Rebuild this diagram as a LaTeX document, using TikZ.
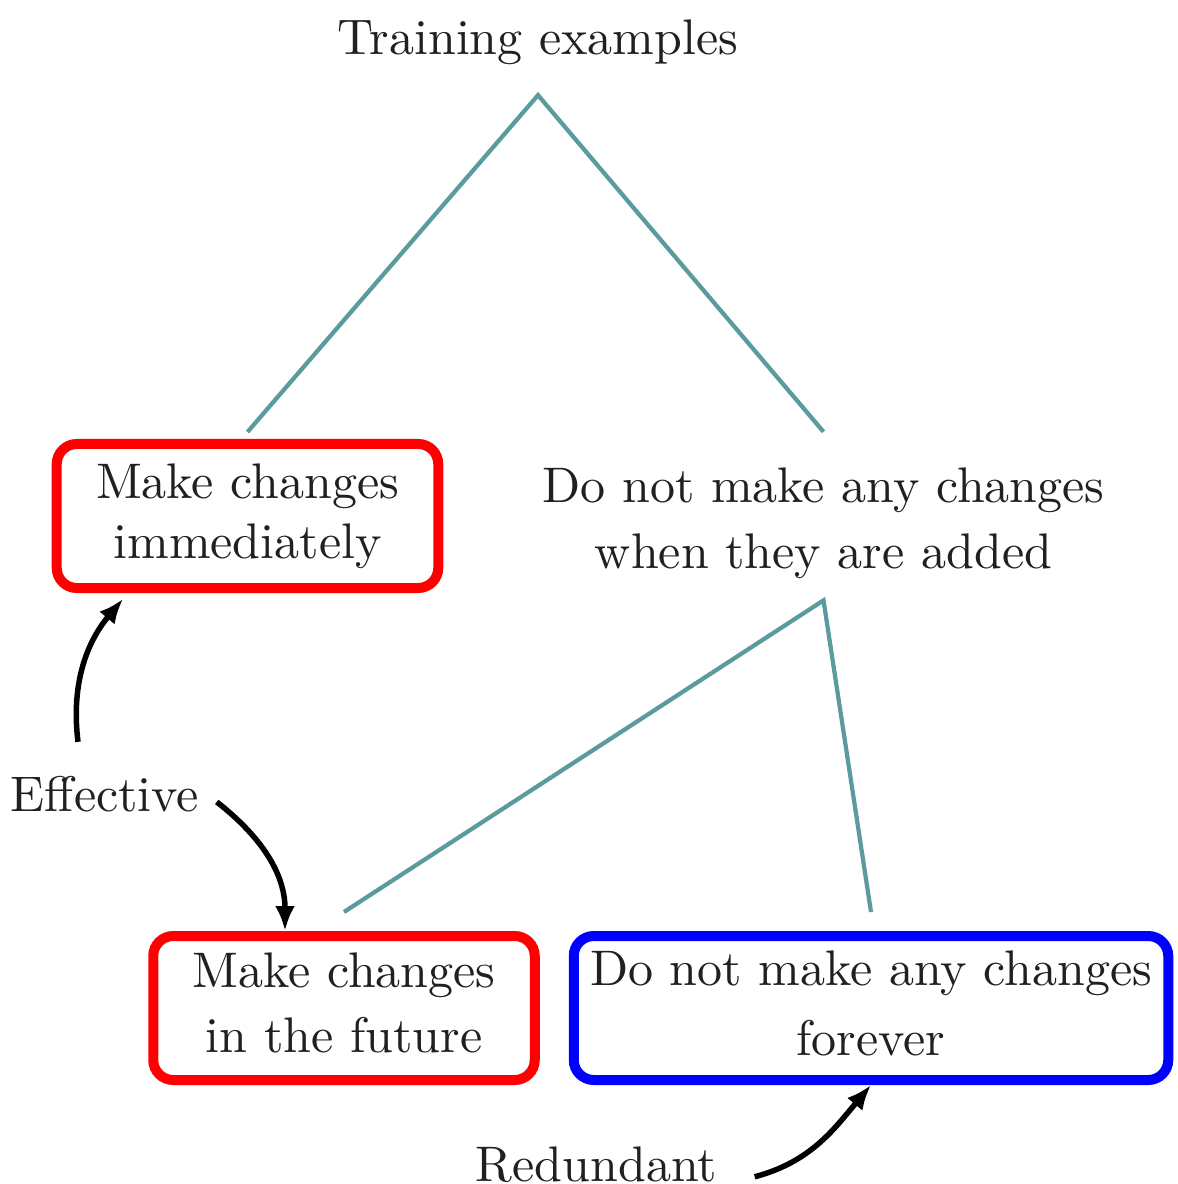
\documentclass[tikz,border=0pt]{standalone}
\usetikzlibrary{arrows.meta}
\definecolor{branchcol}{RGB}{91,155,158}
\definecolor{textcol}{RGB}{35,31,32}
\begin{document}
\begin{tikzpicture}[x=0.2pt,y=-0.2pt,
    every node/.style={text=textcol,align=center},
    box/.style={draw,line width=2pt,rounded corners=4pt,inner xsep=2.5pt,inner ysep=2pt,minimum height=28.8pt,
      execute at begin node={\rule{0pt}{7.5pt}},execute at end node={\rule[-2pt]{0pt}{2pt}}},
    effbox/.style={box,draw=red,minimum width=76.3pt},
    redbox/.style={box,draw=blue,minimum width=118.9pt},
    branch/.style={draw=branchcol,line width=0.85pt},
    note/.style={-{Latex[length=5pt,width=4pt]},line width=1.1pt}]
  \useasboundingbox (0,0) rectangle (1177,1184);
  \node (root) at (538,42.5) {Training examples};
  \node[effbox] (imm) at (247.5,516) {Make changes\\immediately};
  \node (later) at (823.5,523.2) {Do not make any changes\\[1.2pt]when they are added};
  \node[effbox] (future) at (344,1008) {Make changes\\[1pt]in the future};
  \node[redbox] (forever) at (871,1008) {Do not make any changes\\[2pt]forever};
  \node (eff) at (105,794.4) {Effective};
  \node (red) at (596.5,1164.3) {Redundant};
  \draw[branch] ([yshift=1.4pt]imm.north) -- ([yshift=-2.5pt]root.south) -- ([yshift=3.65pt]later.north);
  \draw[branch] ([yshift=3.8pt]future.north) -- ([yshift=-0.8pt]later.south) -- ([yshift=3.8pt]forever.north);
  \draw[note,shorten >=1.5pt] ([xshift=-5.4pt,yshift=3.4pt]eff.north) to[out=97,in=230] ([xshift=-23.9pt]imm.south);
  \draw[note] ([yshift=-1.5pt]eff.east) to[out=-38,in=90] ([xshift=-11.8pt]future.north);
  \draw[note] ([xshift=4pt,yshift=-2.5pt]red.east) to[out=15,in=230] (forever.south);
\end{tikzpicture}
\end{document}
